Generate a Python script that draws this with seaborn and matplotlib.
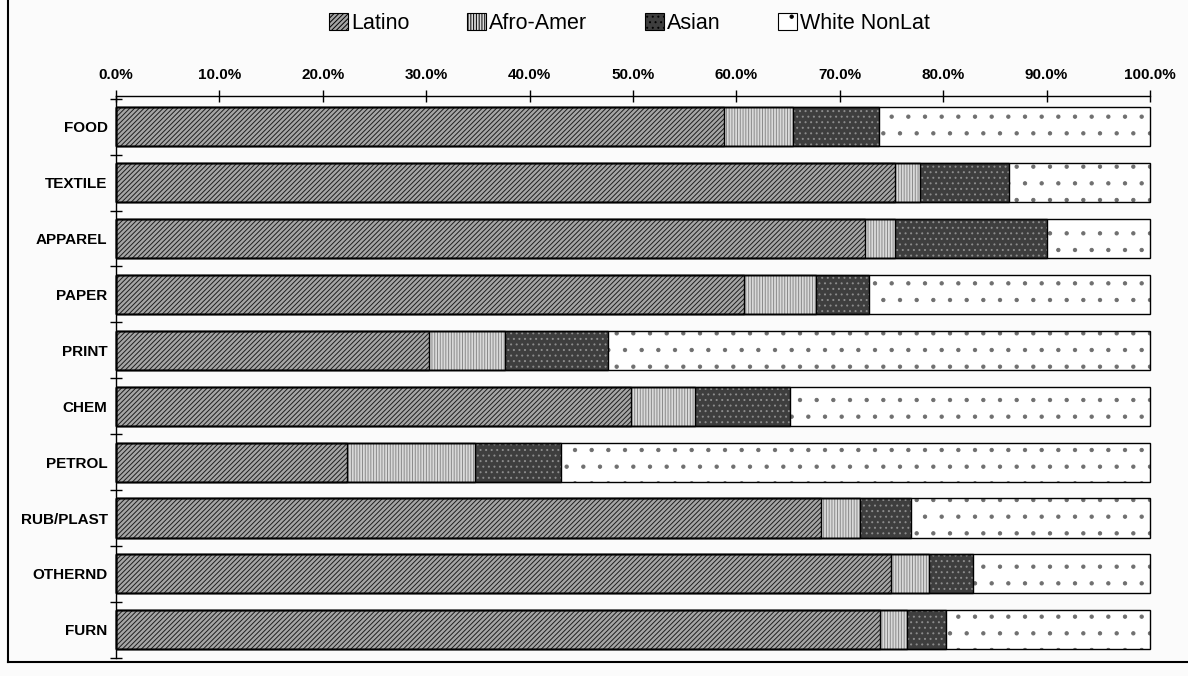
import numpy as np
import pandas as pd
import matplotlib
matplotlib.use("Agg")
import matplotlib.pyplot as plt
import seaborn as sns
from matplotlib.patches import Patch
from matplotlib.lines import Line2D
from matplotlib.ticker import FixedLocator

# ── data (percent of workforce by group) ─────────────────────────────────────
sectors = ["FOOD", "TEXTILE", "APPAREL", "PAPER", "PRINT", "CHEM",
           "PETROL", "RUB/PLAST", "OTHERND", "FURN"]
latino = [58.8, 75.3, 72.4, 60.7, 30.3, 49.8, 22.3, 68.2, 75.0, 73.9]
afro   = [6.7, 2.5, 2.9, 7.0, 7.3, 6.2, 12.4, 3.8, 3.6, 2.6]
asian  = [8.3, 8.6, 14.7, 5.1, 10.0, 9.2, 8.3, 4.9, 4.3, 3.8]
white  = [26.2, 13.6, 10.0, 27.2, 52.4, 34.8, 57.0, 23.1, 17.1, 19.7]
groups = ["Latino", "Afro-Amer", "Asian", "White NonLat"]
xticks = [0, 10, 20, 30, 40, 50, 60, 70, 80, 90, 100]

df = pd.DataFrame({"sector": sectors, "Latino": latino, "Afro-Amer": afro,
                   "Asian": asian, "White NonLat": white})
cum = df[groups].cumsum(axis=1)
cum["sector"] = df["sector"]

# fill style per group: face, hatch, hatch colour
styles = {
    "Latino":       dict(color="#a6a6a6", hatch="///////", edgecolor="#1e1e1e"),
    "Afro-Amer":    dict(color="#dadada", hatch="||||||", edgecolor="#8a8a8a"),
    "Asian":        dict(color="#3e3e3e", hatch="...",    edgecolor="#8c8c8c"),
    "White NonLat": dict(color="#ffffff", hatch=".",      edgecolor="#6f6f6f"),
}

plt.rcParams["font.family"] = ["Liberation Sans", "DejaVu Sans"]
plt.rcParams["hatch.linewidth"] = 0.7

fig = plt.figure(figsize=(11.88, 6.76), dpi=100)
fig.patch.set_facecolor("#fbfbfb")
ax = fig.add_axes([0.0976, 0.027, 0.8704, 0.831])
ax.set_facecolor("#fbfbfb")

# longest cumulative first, each shorter one drawn on top
for g in reversed(groups):
    sns.barplot(data=cum, x=g, y="sector", order=sectors, orient="h",
                width=0.7, saturation=1, linewidth=0, ax=ax, **styles[g])
# black outlines of each segment
for g in groups:
    sns.barplot(data=cum, x=g, y="sector", order=sectors, orient="h",
                width=0.7, fill=False, edgecolor="black", linewidth=1.0, ax=ax)
for p in ax.patches:
    p.set_clip_on(False)

ax.set_xlim(0, 100)
ax.set_ylim(9.5, -0.55)
ax.set_xlabel("")
ax.set_ylabel("")

ax.xaxis.tick_top()
ax.set_xticks(xticks)
ax.set_xticklabels([f"{v:.1f}%" for v in xticks], fontsize=11, fontweight="bold")
ax.tick_params(axis="x", direction="inout", length=8, width=1, pad=6)

ax.set_yticks(range(len(sectors)))
ax.set_yticklabels(sectors, fontsize=11, fontweight="bold")
ax.tick_params(axis="y", which="major", length=0, pad=6)
ax.yaxis.set_minor_locator(FixedLocator(np.arange(-0.5, len(sectors), 1.0)))
ax.tick_params(axis="y", which="minor", direction="inout", length=8, width=1)

for s in ["right", "bottom"]:
    ax.spines[s].set_visible(False)
ax.spines["top"].set_linewidth(1)
ax.spines["left"].set_linewidth(1)

handles = [Patch(facecolor=styles[g]["color"], hatch=styles[g]["hatch"],
                 edgecolor="black", linewidth=0.8, label=g) for g in groups]
fig.legend(handles=handles, loc="center", bbox_to_anchor=(0.53, 0.965), ncol=4,
           frameon=False, fontsize=15.5, handlelength=0.85, handleheight=0.85,
           handletextpad=0.15, columnspacing=2.7)

# scanned page frame
fig.add_artist(Line2D([0.007, 0.007], [0.02, 1.0], color="black", lw=1.5,
                      transform=fig.transFigure))
fig.add_artist(Line2D([0.007, 1.0], [0.02, 0.02], color="black", lw=1.5,
                      transform=fig.transFigure))

fig.savefig("out.png", dpi=100, facecolor=fig.get_facecolor())
